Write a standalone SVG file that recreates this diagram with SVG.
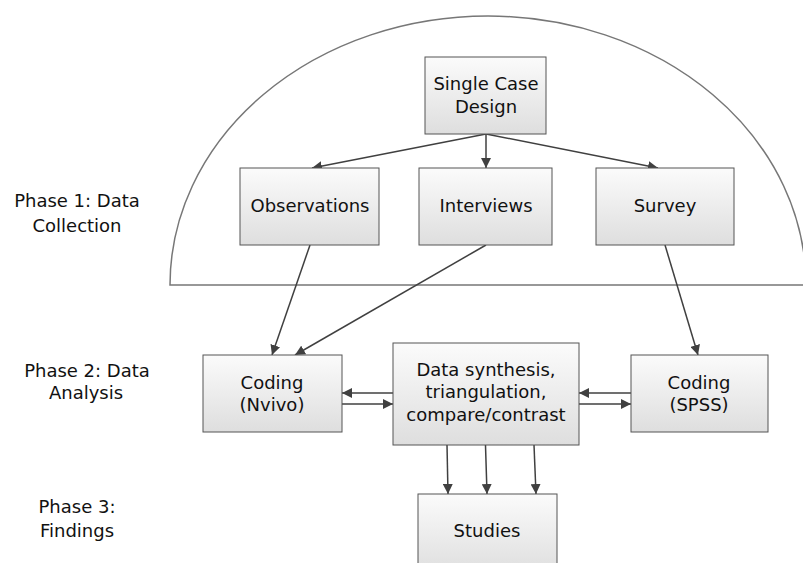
<svg xmlns="http://www.w3.org/2000/svg" width="803" height="563" viewBox="0 0 803 563">
<style>
  .box { stroke: #555; stroke-width: 1; fill: url(#g); }
  .t { font-family: "DejaVu Sans", "Open Sans", sans-serif; font-size: 18px; fill: #111; text-anchor: middle; }
  .c { stroke: #404040; stroke-width: 1.5; fill: none; marker-end: url(#ah); }
  .hull { stroke: #777; stroke-width: 1.5; fill: none; }
</style>
<defs>
  <linearGradient id="g" x1="0" y1="0" x2="0" y2="1">
    <stop offset="0" stop-color="#fbfbfb"/>
    <stop offset="1" stop-color="#dedede"/>
  </linearGradient>
  <marker id="ah" markerUnits="userSpaceOnUse" markerWidth="10" markerHeight="10" viewBox="0 0 10 10" refX="10" refY="5" orient="auto">
    <path d="M0,0 L10,5 L0,10 z" fill="#404040"/>
  </marker>
</defs>
<rect width="803" height="563" fill="#fff"/>
<path class="hull" d="M170,285 A318,269 0 0 1 806,285 Z"/>
<g id="labels">
  <text class="t" x="77" y="207">Phase 1: Data</text>
  <text class="t" x="77" y="232">Collection</text>
  <text class="t" x="87" y="377">Phase 2: Data</text>
  <text class="t" x="86" y="399">Analysis</text>
  <text class="t" x="77" y="513">Phase 3:</text>
  <text class="t" x="77" y="537">Findings</text>
</g>
<g id="connectors">
  <line class="c" x1="486" y1="134" x2="312" y2="168"/>
  <line class="c" x1="486" y1="134" x2="486" y2="168"/>
  <line class="c" x1="486" y1="134" x2="658" y2="168"/>
  <line class="c" x1="310" y1="245" x2="272" y2="355"/>
  <line class="c" x1="486" y1="245" x2="295" y2="355"/>
  <line class="c" x1="665" y1="245" x2="698" y2="355"/>
  <line class="c" x1="393" y1="393" x2="342" y2="393"/>
  <line class="c" x1="342" y1="404" x2="393" y2="404"/>
  <line class="c" x1="631" y1="393" x2="579" y2="393"/>
  <line class="c" x1="579" y1="404" x2="631" y2="404"/>
  <line class="c" x1="447" y1="445" x2="448" y2="494"/>
  <line class="c" x1="485.5" y1="445" x2="487" y2="494"/>
  <line class="c" x1="534" y1="445" x2="536" y2="494"/>
</g>
<g id="scd">
  <rect class="box" x="425" y="57" width="121" height="77"/>
  <text class="t" x="486" y="90">Single Case</text>
  <text class="t" x="486" y="113">Design</text>
</g>
<g id="observations">
  <rect class="box" x="240" y="168" width="139" height="77"/>
  <text class="t" x="310" y="212">Observations</text>
</g>
<g id="interviews">
  <rect class="box" x="419" y="168" width="133" height="77"/>
  <text class="t" x="486" y="212">Interviews</text>
</g>
<g id="survey">
  <rect class="box" x="596" y="168" width="138" height="77"/>
  <text class="t" x="665" y="212">Survey</text>
</g>
<g id="nvivo">
  <rect class="box" x="203" y="355" width="139" height="77"/>
  <text class="t" x="272" y="389">Coding</text>
  <text class="t" x="272" y="411">(Nvivo)</text>
</g>
<g id="synthesis">
  <rect class="box" x="393" y="343" width="186" height="102"/>
  <text class="t" x="486" y="376">Data synthesis,</text>
  <text class="t" x="486" y="398">triangulation,</text>
  <text class="t" x="486" y="421">compare/contrast</text>
</g>
<g id="spss">
  <rect class="box" x="631" y="355" width="137" height="77"/>
  <text class="t" x="699" y="389">Coding</text>
  <text class="t" x="699" y="411">(SPSS)</text>
</g>
<g id="studies">
  <rect class="box" x="418" y="494" width="139" height="80"/>
  <text class="t" x="487" y="537">Studies</text>
</g>
</svg>
